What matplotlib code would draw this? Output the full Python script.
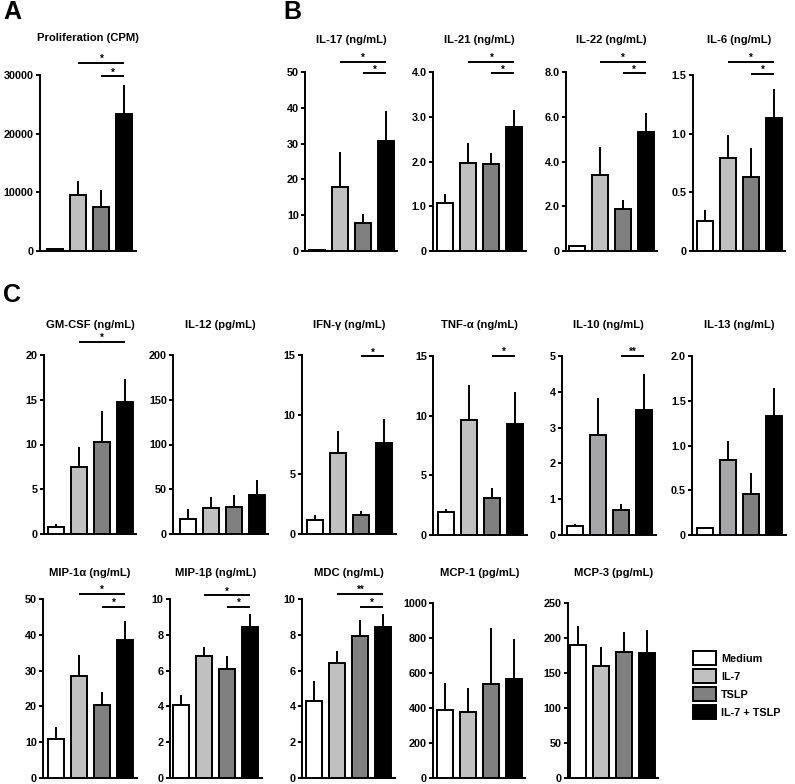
import matplotlib
matplotlib.use('Agg')
import matplotlib.pyplot as plt
from matplotlib.patches import Patch

plt.rcParams['font.family'] = ['Liberation Sans', 'DejaVu Sans']
plt.rcParams['font.weight'] = 'bold'

# ---------------- data ----------------
groups = ['Medium', 'IL-7', 'TSLP', 'IL-7 + TSLP']
colors = ['#ffffff', '#c0c0c0', '#808080', '#000000']
colors_alt = ['#ffffff', '#a6a6a9', '#808080', '#000000']

prolif_mean = [300, 9550, 7500, 23300]
prolif_err = [0, 2350, 2900, 5000]
il17_mean = [0.4, 17.9, 7.8, 30.7]
il17_err = [0, 9.7, 2.5, 8.4]
il21_mean = [1.07, 1.97, 1.95, 2.78]
il21_err = [0.21, 0.45, 0.25, 0.37]
il22_mean = [0.23, 3.4, 1.88, 5.33]
il22_err = [0, 1.25, 0.4, 0.84]
il6_mean = [0.256, 0.79, 0.63, 1.13]
il6_err = [0.09, 0.2, 0.25, 0.25]
gmcsf_mean = [0.78, 7.5, 10.3, 14.7]
gmcsf_err = [0.3, 2.2, 3.4, 2.6]
il12_mean = [17, 29, 30, 44]
il12_err = [11, 12, 14, 16]
ifng_mean = [1.17, 6.8, 1.6, 7.6]
ifng_err = [0.4, 1.8, 0.3, 2.0]
tnfa_mean = [1.9, 9.6, 3.1, 9.3]
tnfa_err = [0.3, 3.0, 0.8, 2.7]
il10_mean = [0.25, 2.8, 0.7, 3.5]
il10_err = [0.05, 1.02, 0.17, 1.0]
il13_mean = [0.078, 0.84, 0.46, 1.33]
il13_err = [0.015, 0.21, 0.23, 0.31]
mip1a_mean = [11, 28.5, 20.5, 38.5]
mip1a_err = [3.3, 5.9, 3.4, 5.3]
mip1b_mean = [4.1, 6.8, 6.1, 8.45]
mip1b_err = [0.55, 0.5, 0.7, 0.7]
mdc_mean = [4.3, 6.4, 7.95, 8.45]
mdc_err = [1.1, 0.7, 0.85, 0.7]
mcp1_mean = [390, 380, 540, 568]
mcp1_err = [155, 135, 320, 227]
mcp3_mean = [190, 159.5, 180, 178.6]
mcp3_err = [27.6, 27.5, 28.6, 32.4]

ticks_prolif = [0, 10000, 20000, 30000]
ticks_il17 = [0, 10, 20, 30, 40, 50]
ticks_il21 = [0, 1, 2, 3, 4]
labels_il21 = ['0', '1.0', '2.0', '3.0', '4.0']
ticks_il22 = [0, 2, 4, 6, 8]
labels_il22 = ['0', '2.0', '4.0', '6.0', '8.0']
ticks_il6 = [0, 0.5, 1.0, 1.5]
labels_il6 = ['0', '0.5', '1.0', '1.5']
ticks_gmcsf = [0, 5, 10, 15, 20]
ticks_il12 = [0, 50, 100, 150, 200]
ticks_ifng = [0, 5, 10, 15]
ticks_tnfa = [0, 5, 10, 15]
ticks_il10 = [0, 1, 2, 3, 4, 5]
ticks_il13 = [0, 0.5, 1.0, 1.5, 2.0]
labels_il13 = ['0', '0.5', '1.0', '1.5', '2.0']
ticks_mip1a = [0, 10, 20, 30, 40, 50]
ticks_mip1b = [0, 2, 4, 6, 8, 10]
ticks_mdc = [0, 2, 4, 6, 8, 10]
ticks_mcp1 = [0, 200, 400, 600, 800, 1000]
ticks_mcp3 = [0, 50, 100, 150, 200, 250]

# significance: (from group, to group, level as fraction of axis max, label)
sig_prolif = [(1, 3, 1.068, '*'), (2, 3, 0.994, '*')]
sig_il17 = [(1, 3, 1.056, '*'), (2, 3, 0.994, '*')]
sig_il21 = [(1, 3, 1.056, '*'), (2, 3, 0.994, '*')]
sig_il22 = [(1, 3, 1.056, '*'), (2, 3, 0.994, '*')]
sig_il6 = [(1, 3, 1.074, '*'), (2, 3, 1.006, '*')]
sig_gmcsf = [(1, 3, 1.073, '*')]
sig_ifng = [(2, 3, 0.994, '*')]
sig_tnfa = [(2, 3, 1.0, '*')]
sig_il10 = [(2, 3, 1.0, '**')]
sig_mip1a = [(1, 3, 1.028, '*'), (2, 3, 0.955, '*')]
sig_mip1b = [(1, 3, 1.022, '*'), (2, 3, 0.955, '*')]
sig_mdc = [(1, 3, 1.028, '**'), (2, 3, 0.955, '*')]

# ---------------- layout ----------------
W, H = 795, 784
fig = plt.figure(figsize=(W / 100, H / 100), dpi=100)

UNIT = 23.0  # px per group
LW = 1.4


def panel(spine_x, top, bottom, left_off, title, title_y, mean, err, ticks,
          ticklabels=None, sig=(), cols=colors):
    xmin, xmax = -left_off, 3.5
    width_px = (xmax - xmin) * UNIT
    ax = fig.add_axes([spine_x / W, 1 - bottom / H, width_px / W, (bottom - top) / H])
    ymax = ticks[-1]
    x = list(range(len(mean)))
    ax.bar(x, mean, width=0.7, color=cols, edgecolor='black', linewidth=LW, zorder=3)
    ax.errorbar(x, mean, yerr=[[0] * len(err), err], fmt='none', ecolor='black',
                elinewidth=LW, capsize=0, zorder=2)
    ax.set_xlim(xmin, xmax)
    ax.set_ylim(0, ymax)
    ax.set_xticks([])
    ax.set_yticks(ticks)
    if ticklabels is None:
        ticklabels = [str(t) for t in ticks]
    ax.set_yticklabels(ticklabels, fontsize=7.8, fontweight='bold')
    ax.tick_params(axis='y', direction='out', length=3, width=LW, pad=1.5)
    for s in ['top', 'right']:
        ax.spines[s].set_visible(False)
    for s in ['left', 'bottom']:
        ax.spines[s].set_linewidth(LW)
    ax.patch.set_alpha(0)
    for (i, j, frac, lab) in sig:
        yv = frac * ymax
        ax.plot([i, j], [yv, yv], color='black', lw=LW, clip_on=False, solid_capstyle='butt')
        ax.text((i + j) / 2, yv + 0.004 * ymax, lab, ha='center', va='baseline',
                fontsize=7, fontweight='bold', clip_on=False)
    cx = (spine_x + width_px / 2) / W
    fig.text(cx, 1 - title_y / H, title, ha='center', va='center', fontsize=8.1,
             fontweight='bold')
    return ax


# Row 1
panel(40, 75, 251, 0.67, 'Proliferation (CPM)', 38, prolif_mean, prolif_err, ticks_prolif,
      sig=sig_prolif)
panel(305, 72, 251, 0.52, 'IL-17 (ng/mL)', 40, il17_mean, il17_err, ticks_il17, sig=sig_il17)
panel(433, 72, 251, 0.54, 'IL-21 (ng/mL)', 40, il21_mean, il21_err, ticks_il21, labels_il21,
      sig=sig_il21)
panel(566, 72, 251, 0.46, 'IL-22 (ng/mL)', 40, il22_mean, il22_err, ticks_il22, labels_il22,
      sig=sig_il22)
panel(693, 75, 251, 0.52, 'IL-6 (ng/mL)', 40, il6_mean, il6_err, ticks_il6, labels_il6,
      sig=sig_il6)

# Row 2
panel(44, 355, 534, 0.52, 'GM-CSF (ng/mL)', 325, gmcsf_mean, gmcsf_err, ticks_gmcsf, sig=sig_gmcsf)
panel(173, 355, 534, 0.65, 'IL-12 (pg/mL)', 325, il12_mean, il12_err, ticks_il12)
panel(302, 355, 534, 0.57, 'IFN-γ (ng/mL)', 325, ifng_mean, ifng_err, ticks_ifng, sig=sig_ifng)
panel(433, 356, 535, 0.57, 'TNF-α (ng/mL)', 325, tnfa_mean, tnfa_err, ticks_tnfa, sig=sig_tnfa)
panel(562, 356, 535, 0.57, 'IL-10 (ng/mL)', 325, il10_mean, il10_err, ticks_il10, sig=sig_il10,
      cols=colors_alt)
panel(692, 356, 535, 0.57, 'IL-13 (ng/mL)', 325, il13_mean, il13_err, ticks_il13, labels_il13,
      cols=colors_alt)

# Row 3
panel(43, 599, 778, 0.57, 'MIP-1α (ng/mL)', 573, mip1a_mean, mip1a_err, ticks_mip1a, sig=sig_mip1a)
panel(170, 599, 778, 0.48, 'MIP-1β (ng/mL)', 573, mip1b_mean, mip1b_err, ticks_mip1b, sig=sig_mip1b)
panel(302, 599, 778, 0.54, 'MDC (ng/mL)', 573, mdc_mean, mdc_err, ticks_mdc, sig=sig_mdc)
panel(433, 603, 778, 0.52, 'MCP-1 (pg/mL)', 573, mcp1_mean, mcp1_err, ticks_mcp1)
panel(568, 603, 778, 0.43, 'MCP-3 (pg/mL)', 573, mcp3_mean, mcp3_err, ticks_mcp3)

# Panel letters
fig.text(3 / W, 1 - 0 / H, 'A', ha='left', va='top', fontsize=18, fontweight='bold')
fig.text(283 / W, 1 - 0 / H, 'B', ha='left', va='top', fontsize=18, fontweight='bold')
fig.text(3 / W, 1 - 283 / H, 'C', ha='left', va='top', fontsize=18, fontweight='bold')

# Legend
handles = [Patch(facecolor=c, edgecolor='black', linewidth=LW) for c in colors]
fig.legend(handles, groups, loc='upper left', bbox_to_anchor=(693 / W, 1 - 651 / H),
           frameon=False, prop={'size': 7.8, 'weight': 'bold'}, handlelength=2.1,
           handleheight=1.65, labelspacing=0.35, handletextpad=0.5, borderpad=0,
           borderaxespad=0)

fig.savefig('out.png', dpi=100)
